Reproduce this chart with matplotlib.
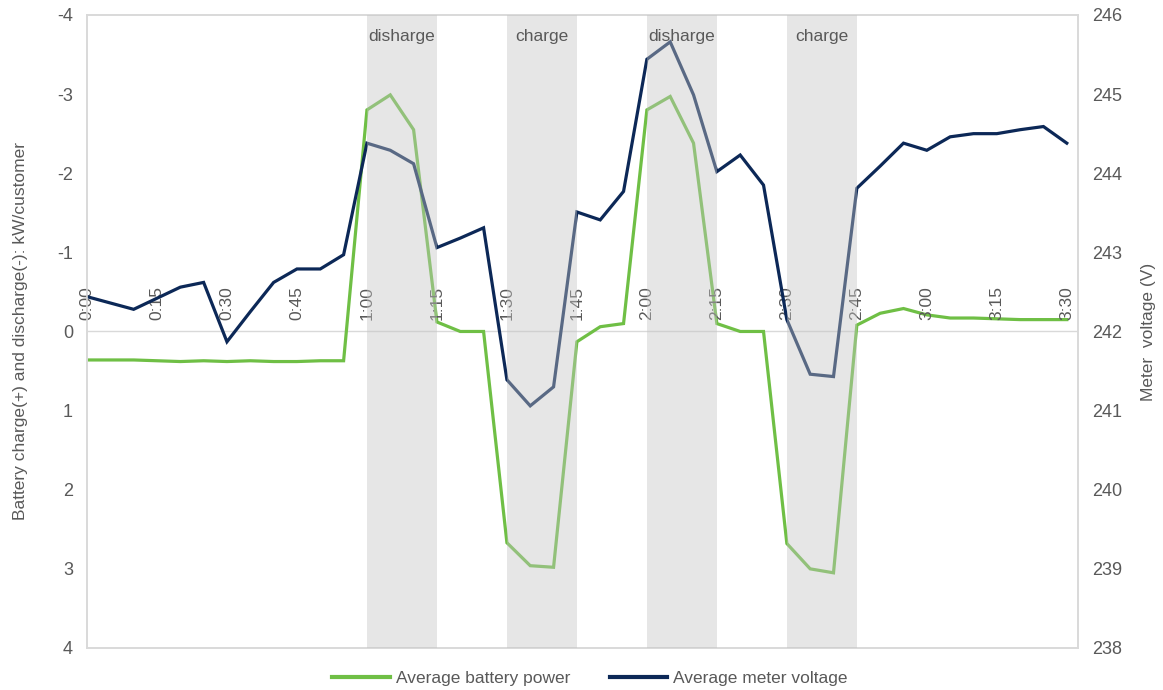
import matplotlib.pyplot as plt
import numpy as np

plt.rcParams['font.family'] = ['Liberation Sans', 'DejaVu Sans']
plt.rcParams['axes.unicode_minus'] = False

# 5-minute steps, 0:00 .. 3:30
minutes = np.arange(0, 215, 5)

# battery power, kW/customer (charge +, discharge -)
battery = [0.36, 0.36, 0.36, 0.37, 0.38, 0.37, 0.38, 0.37, 0.38, 0.38, 0.37, 0.37,
           -2.80, -2.99, -2.55, -0.12, 0.0, 0.0,
           2.67, 2.96, 2.98, 0.13, -0.06, -0.10,
           -2.80, -2.97, -2.38, -0.10, 0.0, 0.0,
           2.68, 3.00, 3.05, -0.08, -0.23, -0.29,
           -0.21, -0.17, -0.17, -0.16, -0.15, -0.15, -0.15]

# meter voltage, V
voltage = [242.44, 242.36, 242.28, 242.42, 242.56, 242.62, 241.87, 242.25, 242.62, 242.79, 242.79, 242.97,
           244.38, 244.29, 244.12, 243.06, 243.18, 243.31,
           241.39, 241.06, 241.30, 243.51, 243.41, 243.77,
           245.44, 245.66, 244.99, 244.02, 244.23, 243.85,
           242.15, 241.46, 241.43, 243.81, 244.09, 244.38,
           244.29, 244.46, 244.50, 244.50, 244.55, 244.59, 244.38]

tick_minutes = [0, 15, 30, 45, 60, 75, 90, 105, 120, 135, 150, 165, 180, 195, 210]
tick_labels = ["0:00", "0:15", "0:30", "0:45", "1:00", "1:15", "1:30", "1:45",
               "2:00", "2:15", "2:30", "2:45", "3:00", "3:15", "3:30"]

# event windows (start, end minutes) and their labels
windows = [(60, 75), (90, 105), (120, 135), (150, 165)]
window_labels = ["disharge", "charge", "disharge", "charge"]

green = '#6fbf45'
navy = '#0c2857'
grey_txt = '#595959'
frame = '#d9d9d9'

fig = plt.figure(figsize=(11.63, 6.90), dpi=100)
ax = fig.add_axes([0.0748, 0.0609, 0.8521, 0.9174])
ax2 = ax.twinx()

ax.plot(minutes, battery, color=green, lw=2.3, solid_joinstyle='miter', zorder=2)
ax2.plot(minutes, voltage, color=navy, lw=2.3, solid_joinstyle='miter', zorder=2)

ax.set_xlim(0, 212.4)
ax.set_ylim(4, -4)
ax2.set_ylim(238, 246)
ax.set_yticks(np.arange(-4, 5, 1))
ax2.set_yticks(np.arange(238, 247, 1))

ax.axhline(0, color=frame, lw=1, zorder=1)

# shaded windows over the lines
for (a, b), lab in zip(windows, window_labels):
    ax2.axvspan(a, b, color='#c4c4c4', alpha=0.42, lw=0, zorder=3)
    ax2.text((a + b) / 2, 245.73, lab, ha='center', va='center',
             fontsize=12.5, color=grey_txt, zorder=4)

# time labels sitting above the zero line
ax.set_xticks([])
for m, lab in zip(tick_minutes, tick_labels):
    ax.text(m, -0.15, lab, rotation=90, ha='center', va='bottom',
            fontsize=12.5, color=grey_txt, zorder=5)

for a in (ax, ax2):
    for s in a.spines.values():
        s.set_color(frame)
        s.set_linewidth(1.2)
    a.tick_params(length=0, labelsize=13, labelcolor=grey_txt, pad=10)

ax.set_ylabel("Battery charge(+) and discharge(-): kW/customer",
              fontsize=12.5, color=grey_txt, labelpad=21)
ax2.set_ylabel("Meter  voltage (V)", fontsize=12.5, color=grey_txt,
               labelpad=14, rotation=90)

h1 = plt.Line2D([], [], color=green, lw=3)
h2 = plt.Line2D([], [], color=navy, lw=3)
leg = fig.legend([h1, h2], ["Average battery power", "Average meter voltage"],
                 loc='center', bbox_to_anchor=(590 / 1163, 1 - 678 / 690),
                 ncol=2, frameon=False, fontsize=12.5, handlelength=3.3,
                 handletextpad=0.35, columnspacing=2.3)
for t in leg.get_texts():
    t.set_color(grey_txt)

fig.savefig('out.png', dpi=100)
